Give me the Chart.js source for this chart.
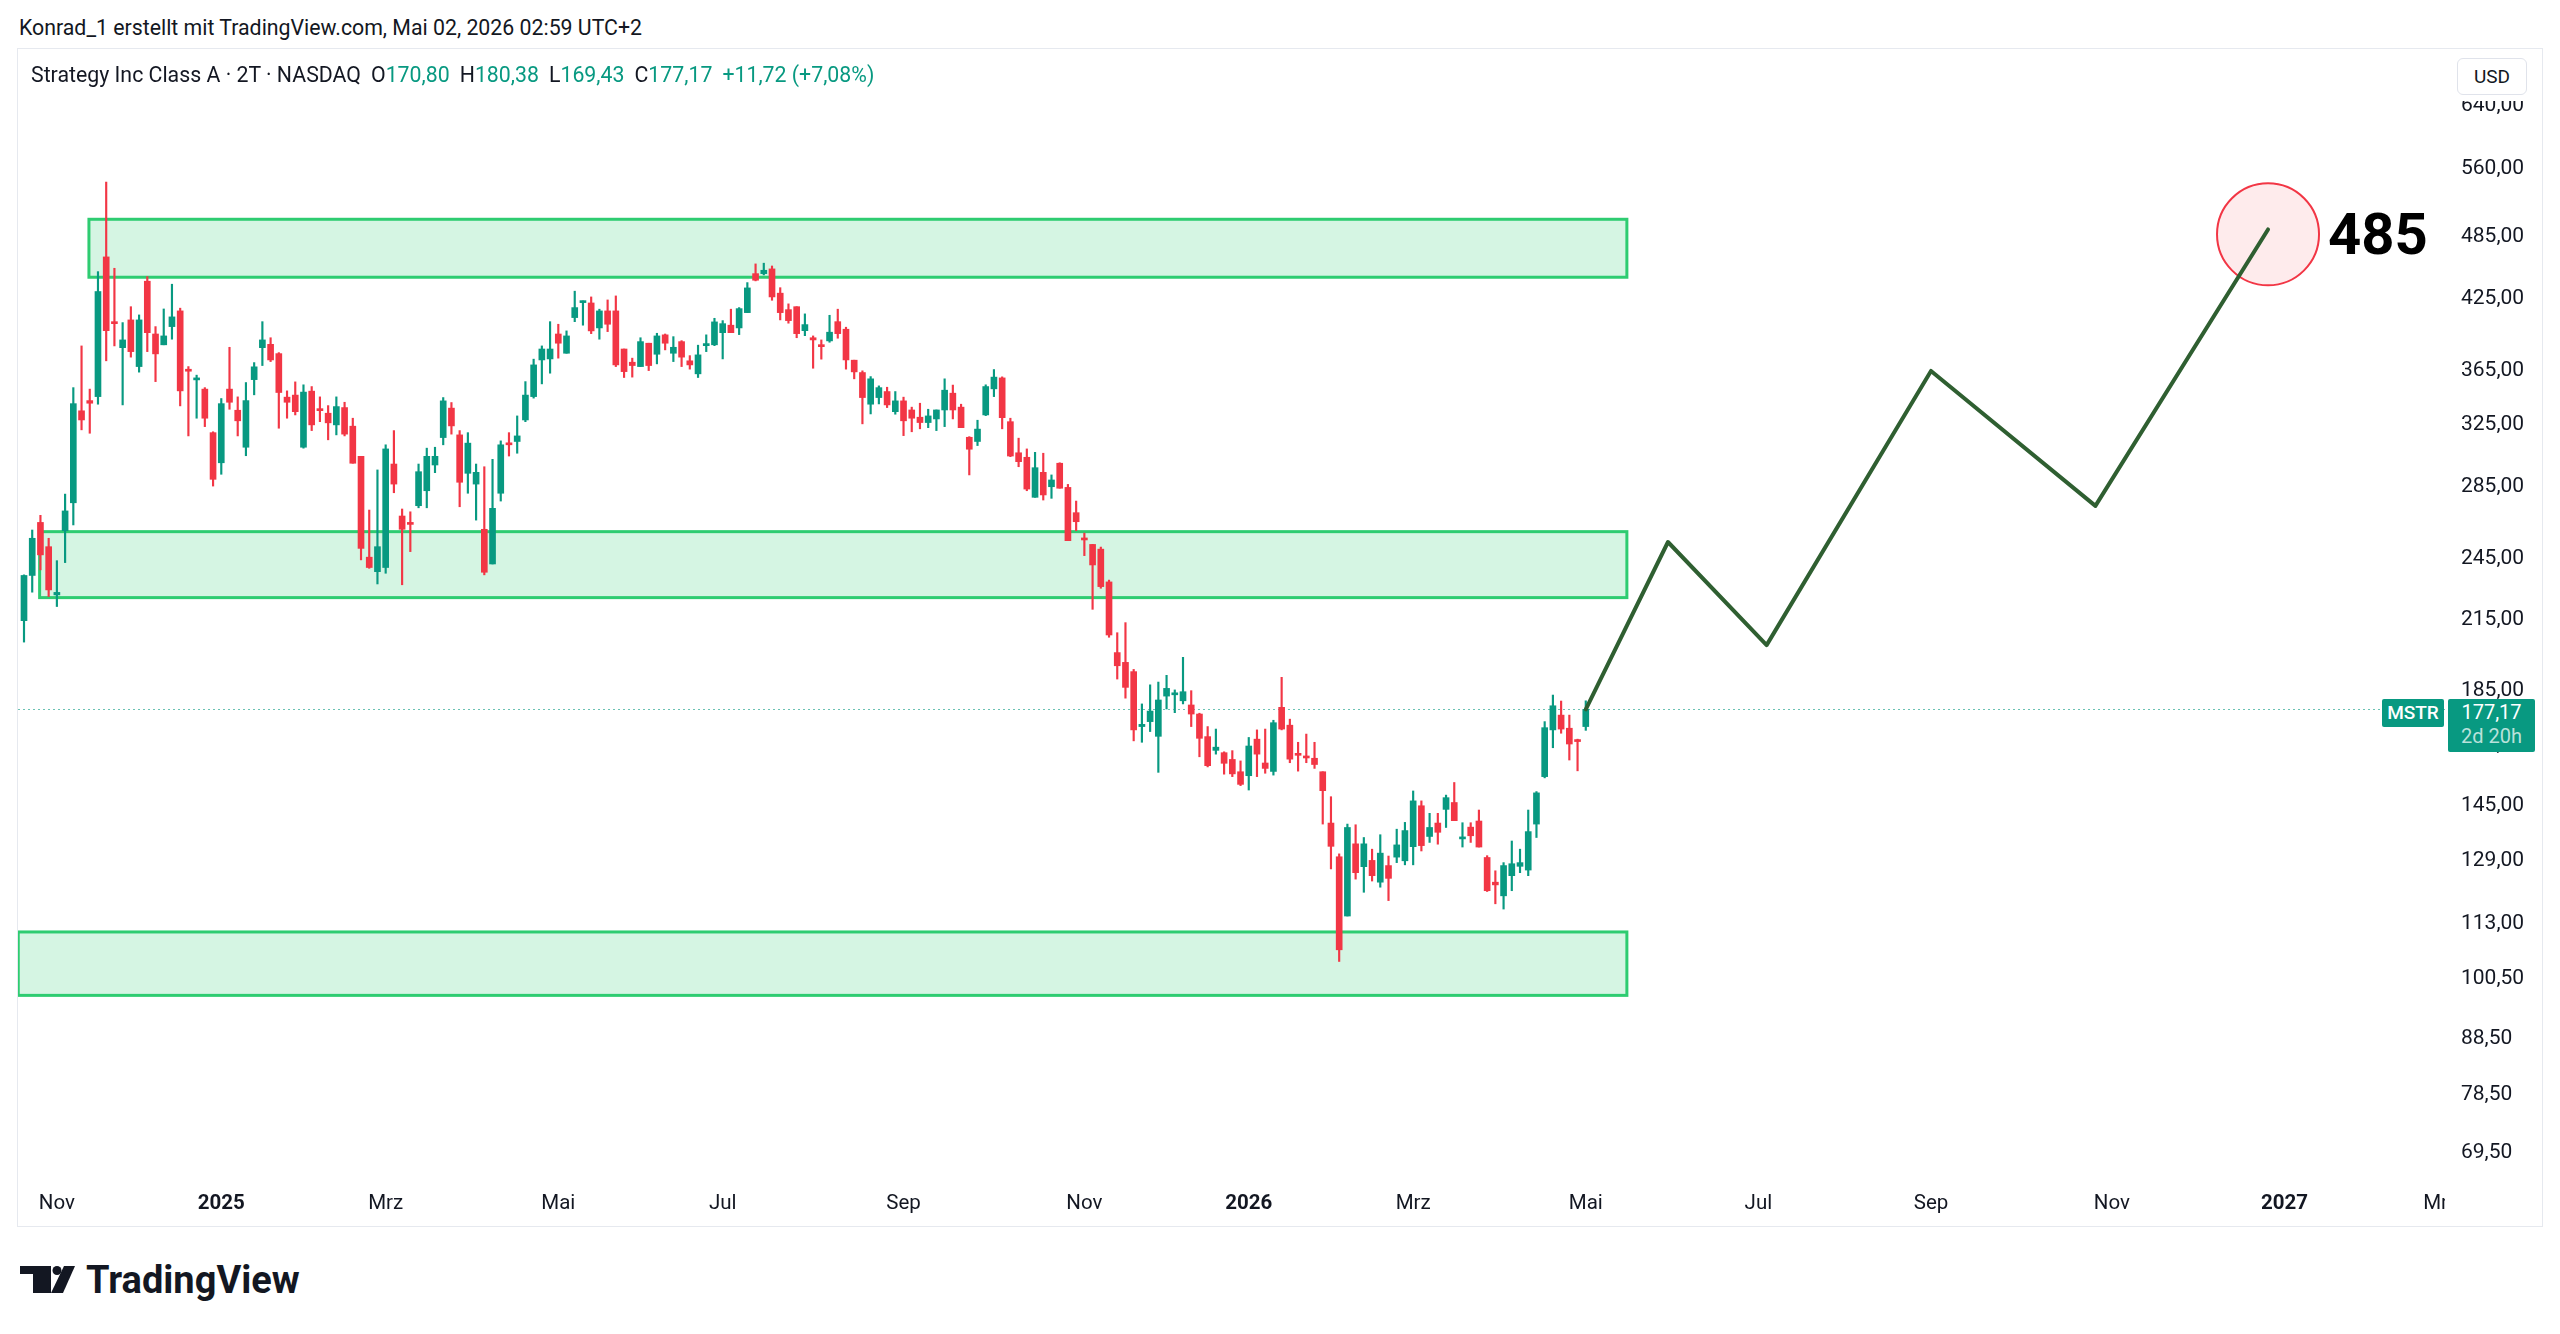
<!DOCTYPE html>
<html lang="de">
<head>
<meta charset="utf-8">
<title>Strategy Inc Class A (MSTR) · 2T</title>
<script src="https://cdn.jsdelivr.net/npm/chart.js@4.4.1/dist/chart.umd.min.js"></script>
<style>
  html, body { margin: 0; padding: 0; background: #fff; }
  body { position: relative; width: 2560px; height: 1334px; overflow: hidden;
         font-family: Roboto, "Noto Sans", sans-serif; color: #131722; }
  .abs { position: absolute; white-space: nowrap; }
  #byline { left: 19px; top: 16px; font-size: 21.3px; line-height: 24px; }
  #frame { left: 17px; top: 48px; width: 2524px; height: 1177px; border: 1px solid #e6e9ef; }
  #pane { left: 18px; top: 49px; width: 2524px; height: 1177px; }
  #legend { left: 31px; top: 63px; font-size: 21.3px; line-height: 24px; }
  #legend .v { color: #089981; }
  #legend .k { margin-left: 10px; }
  #axisTop { left: 2446px; top: 49px; width: 95px; height: 52px; background: #fff; }
  #usd { left: 2457px; top: 58px; width: 68px; height: 35px; border: 1px solid #e0e3eb; border-radius: 6px;
         font-size: 19px; line-height: 35px; text-align: center; background: #fff; }
  #sym { background: #089981; color: #fff; font-weight: 500; font-size: 19px; width: 62px; height: 28px;
         line-height: 28px; text-align: center; border-radius: 2px; }
  #last { background: #089981; color: #fff; font-size: 20px; width: 87px; height: 53px; padding-top: 1px;
          box-sizing: border-box; line-height: 24px; text-align: center; border-radius: 2px; }
  #last .cd { color: rgba(255, 255, 255, 0.72); }
  #target { font-weight: 700; font-size: 58px; line-height: 58px; color: #000; }
  #brand { left: 86px; top: 1261px; font-weight: 700; font-size: 38px; line-height: 38px; color: #131722; }
  #logo { left: 20px; top: 1266px; }
</style>
</head>
<body>
<div id="byline" class="abs">Konrad_1 erstellt mit TradingView.com, Mai 02, 2026 02:59 UTC+2</div>
<div id="frame" class="abs"></div>
<div id="pane" class="abs"><canvas id="chart" width="2524" height="1177"></canvas></div>
<div id="legend" class="abs"><span>Strategy Inc Class A · 2T · NASDAQ</span><span class="k">O</span><span class="v">170,80</span><span class="k">H</span><span class="v">180,38</span><span class="k">L</span><span class="v">169,43</span><span class="k">C</span><span class="v">177,17</span><span class="k v">+11,72 (+7,08%)</span></div>
<div id="axisTop" class="abs"></div>
<div id="usd" class="abs">USD</div>
<div id="sym" class="abs">MSTR</div>
<div id="last" class="abs">177,17<br><span class="cd">2d 20h</span></div>
<div id="target" class="abs">485</div>
<svg id="logo" class="abs" width="56" height="28" viewBox="0 0 56 28">
  <path d="M0 0H31V27H13V8H0Z" fill="#131722"/>
  <circle cx="37" cy="4.5" r="4.5" fill="#131722"/>
  <path d="M44 0H55L43 27H31Z" fill="#131722"/>
</svg>
<div id="brand" class="abs">TradingView</div>

<script>
// MSTR 2-day candles, Oct 2024 - May 2026
var opens = [
  213.8, 235.3, 263.3, 250.1, 225.8, 258.7, 274.5, 333.6, 340.9, 343.8,
  462.3, 402.2, 381.4, 404.5, 366.4, 439.1, 392.6, 383.7, 398.8, 412.3,
  364.1, 356.2, 349.3, 318.5, 298.8, 349.3, 334.0, 308.8, 356.4, 381.4,
  384.1, 376.6, 343.4, 344.9, 308.8, 347.8, 334.5, 331.9, 323.8, 335.9,
  322.9, 302.9, 244.6, 237.2, 239.3, 298.0, 266.9, 263.3, 272.8, 281.6,
  297.4, 315.2, 335.5, 317.0, 292.2, 285.6, 259.5, 241.1, 280.1, 311.0,
  312.6, 327.2, 343.8, 371.6, 372.4, 392.6, 376.9, 406.5, 419.6, 419.3,
  397.7, 412.3, 412.3, 380.3, 369.8, 366.4, 385.0, 376.1, 391.9, 376.9,
  386.3, 370.9, 360.8, 383.0, 383.7, 393.7, 400.0, 397.7, 410.8, 446.2,
  446.2, 450.7, 428.1, 413.4, 416.0, 395.4, 389.5, 383.4, 386.9, 403.0,
  396.6, 371.4, 361.8, 338.3, 343.1, 347.5, 333.0, 340.7, 334.2, 329.1,
  325.4, 327.9, 334.2, 346.3, 336.2, 315.4, 312.6, 330.7, 349.5, 357.7,
  326.0, 305.2, 302.3, 277.7, 292.8, 284.0, 298.5, 283.6, 268.8, 254.2,
  251.3, 248.8, 232.1, 199.8, 195.7, 191.9, 170.8, 172.6, 167.3, 182.2,
  182.7, 180.4, 178.8, 175.4, 167.2, 162.4, 161.6, 159.3, 155.2, 153.9,
  166.3, 158.1, 155.3, 177.9, 171.3, 161.0, 160.3, 159.7, 155.2, 139.2,
  129.6, 114.3, 133.2, 126.9, 128.6, 122.8, 127.2, 129.5, 128.5, 132.4,
  144.4, 135.3, 139.2, 143.3, 145.4, 134.6, 138.0, 139.8, 129.4, 122.8,
  119.3, 124.5, 127.0, 126.0, 138.9, 153.6, 169.6, 175.0, 170.2, 166.0,
  170.80
];
var highs = [
  235.6, 259.1, 267.3, 254.6, 242.8, 279.6, 350.4, 382.8, 349.3, 448.1,
  541.8, 451.3, 402.2, 416.0, 408.8, 443.4, 398.8, 414.0, 436.3, 414.7,
  366.4, 359.8, 350.4, 319.1, 342.4, 381.7, 343.6, 354.2, 369.5, 403.0,
  389.5, 377.4, 348.0, 354.7, 352.5, 351.2, 343.6, 337.3, 343.6, 339.7,
  328.4, 302.9, 270.3, 294.3, 310.4, 319.9, 270.9, 269.3, 298.0, 308.2,
  308.8, 343.1, 339.5, 319.9, 318.5, 298.0, 296.3, 301.0, 313.0, 318.5,
  330.0, 354.9, 372.2, 382.8, 403.0, 400.8, 395.2, 429.9, 421.1, 424.7,
  413.8, 422.0, 425.6, 380.3, 373.0, 389.5, 385.0, 393.2, 392.6, 390.4,
  387.1, 375.0, 383.4, 391.9, 405.9, 403.9, 413.8, 415.2, 437.8, 455.5,
  456.2, 453.5, 433.1, 418.5, 416.0, 409.7, 391.0, 387.7, 408.5, 413.8,
  398.3, 371.4, 363.1, 358.7, 351.7, 350.7, 347.5, 343.4, 336.2, 339.0,
  334.7, 334.2, 357.0, 352.3, 338.3, 315.8, 327.0, 352.5, 364.1, 358.5,
  328.4, 314.8, 307.7, 305.5, 304.9, 291.2, 298.8, 285.4, 275.5, 257.4,
  251.3, 249.9, 233.0, 208.4, 212.9, 192.8, 179.2, 186.6, 187.7, 190.4,
  184.6, 197.8, 184.3, 175.7, 170.8, 169.9, 161.9, 162.3, 158.8, 166.9,
  169.6, 169.9, 173.1, 189.6, 173.5, 165.2, 168.1, 165.2, 155.2, 147.2,
  130.4, 138.9, 138.7, 135.0, 131.7, 135.8, 129.8, 137.4, 139.4, 149.0,
  145.9, 142.1, 142.1, 147.7, 151.7, 139.3, 139.3, 143.1, 129.9, 125.8,
  128.0, 134.0, 131.7, 143.1, 148.8, 172.6, 182.6, 180.3, 175.0, 166.3,
  180.38
];
var lows = [
  204.3, 227.1, 238.1, 225.0, 220.3, 241.8, 261.9, 320.4, 318.1, 338.3,
  370.9, 382.8, 337.8, 373.8, 362.1, 378.2, 354.9, 383.7, 388.3, 337.1,
  316.3, 328.4, 322.6, 284.4, 291.6, 334.7, 316.3, 303.3, 345.1, 367.2,
  370.3, 321.5, 328.4, 330.7, 308.2, 319.9, 326.0, 313.7, 317.0, 316.3,
  298.5, 243.2, 238.9, 231.1, 236.4, 280.4, 230.7, 247.5, 271.6, 271.6,
  292.6, 310.4, 317.5, 272.2, 280.1, 264.6, 235.6, 241.1, 275.5, 303.1,
  304.9, 326.0, 342.7, 353.2, 361.3, 373.0, 376.9, 403.0, 400.0, 392.9,
  388.3, 394.6, 366.4, 358.0, 358.3, 366.4, 363.3, 368.5, 379.6, 370.3,
  366.4, 364.4, 358.0, 378.2, 383.0, 372.4, 393.7, 392.1, 410.8, 439.4,
  445.0, 421.7, 404.5, 401.7, 389.5, 391.2, 365.1, 372.2, 385.8, 389.1,
  364.4, 357.0, 324.5, 331.4, 338.5, 335.9, 331.2, 316.5, 319.1, 321.1,
  321.9, 319.9, 322.6, 327.9, 321.9, 291.2, 309.9, 330.2, 343.8, 321.1,
  302.7, 296.3, 281.6, 277.7, 276.1, 277.1, 283.1, 253.3, 258.7, 245.4,
  219.0, 229.0, 206.4, 188.9, 181.4, 165.7, 165.2, 169.0, 155.0, 177.3,
  175.9, 179.2, 170.8, 160.2, 156.8, 161.1, 154.4, 153.6, 150.7, 149.3,
  153.6, 154.7, 154.1, 169.6, 158.2, 155.4, 158.2, 156.3, 138.9, 126.3,
  103.8, 114.3, 123.6, 120.2, 123.1, 121.5, 118.1, 128.0, 127.4, 127.4,
  131.2, 133.6, 133.1, 137.9, 139.9, 132.3, 133.6, 132.3, 120.4, 117.3,
  116.0, 120.6, 125.3, 124.5, 135.0, 153.2, 163.3, 168.4, 159.1, 155.5,
  169.43
];
var closes = [
  235.3, 254.6, 245.8, 228.2, 227.0, 269.8, 338.7, 327.2, 339.0, 429.6,
  395.4, 401.3, 387.7, 378.2, 404.5, 393.7, 376.4, 391.0, 407.1, 348.0,
  362.8, 357.0, 328.4, 288.5, 338.7, 339.7, 326.6, 340.9, 366.2, 387.7,
  371.6, 346.8, 339.7, 333.0, 347.1, 323.8, 333.7, 325.2, 336.6, 317.5,
  298.5, 249.2, 239.3, 250.1, 307.7, 285.6, 259.5, 262.2, 293.2, 302.9,
  302.9, 340.7, 323.1, 286.7, 311.5, 292.8, 236.9, 271.3, 310.4, 310.4,
  316.3, 344.9, 367.7, 380.3, 380.3, 385.0, 391.0, 415.2, 420.5, 395.2,
  412.3, 400.8, 367.7, 362.5, 367.2, 386.3, 367.2, 391.0, 385.0, 381.7,
  373.8, 367.7, 375.6, 384.7, 402.8, 401.3, 393.7, 414.3, 432.9, 440.0,
  449.4, 424.7, 410.8, 403.9, 392.9, 400.5, 387.7, 382.2, 394.1, 392.9,
  371.6, 362.3, 343.1, 357.0, 350.4, 337.8, 340.7, 326.6, 328.4, 325.4,
  330.0, 334.2, 348.5, 334.2, 321.9, 307.5, 320.9, 351.2, 358.3, 328.8,
  303.1, 299.5, 282.6, 295.7, 279.1, 288.1, 283.1, 253.3, 263.7, 253.7,
  240.6, 229.8, 207.4, 194.3, 185.6, 169.6, 171.6, 176.5, 180.7, 185.2,
  183.0, 183.9, 175.4, 166.6, 157.2, 163.5, 158.0, 154.5, 151.1, 163.9,
  161.1, 156.3, 172.2, 169.9, 159.4, 160.7, 159.8, 157.6, 149.1, 132.5,
  106.4, 137.9, 125.3, 133.2, 124.5, 130.6, 123.8, 132.9, 137.0, 145.9,
  132.7, 137.9, 136.5, 146.9, 139.9, 135.0, 135.5, 132.3, 120.6, 122.1,
  127.2, 127.7, 128.0, 136.7, 148.4, 170.4, 178.5, 169.9, 164.6, 165.45,
  177.17
];

// time axis: label and the bar it belongs to
var monthLabels = ['Nov', '2025', 'Mrz', 'Mai', 'Jul', 'Sep', 'Nov', '2026', 'Mrz', 'Mai', 'Jul', 'Sep', 'Nov', '2027', 'Mrz'];
var monthBars = [4, 24, 44, 65, 85, 107, 129, 149, 169, 190, 211, 232, 254, 275, 294];

// price axis (log)
var priceTicks = [69.5, 78.5, 88.5, 100.5, 113, 129, 145, 165, 185, 215, 245, 285, 325, 365, 425, 485, 560, 640];

// support / resistance boxes: bar from, bar to, price low, price high
var zoneFrom = [7.9, 1.9, -0.7];
var zoneTo = [195, 195, 195];
var zoneLow = [442.8, 224.5, 96.6];
var zoneHigh = [500.7, 258.2, 110.5];

// projected path and target
var pathBars = [190, 200, 212, 232, 252, 273];
var pathPrices = [177.17, 252.6, 203, 363, 272.7, 490];
var targetBar = 273;
var targetPrice = 485;

var UP = '#089981', DOWN = '#f23645';
var PANE_LEFT = 18, PANE_TOP = 49;

function fmtPrice(v) { return Number(v).toFixed(2).replace('.', ','); }

var candleColors = opens.map(function (o, i) { return closes[i] >= o ? UP : DOWN; });
var bodies = opens.map(function (o, i) { return { x: i, y: [o, closes[i]] }; });
var wicks = opens.map(function (o, i) { return { x: i, y: [lows[i], highs[i]] }; });
var lastClose = closes[closes.length - 1];

// boxes and the dotted last-price line, under the candles
var zonesPlugin = {
  id: 'zones',
  beforeDatasetsDraw: function (chart) {
    var ctx = chart.ctx, a = chart.chartArea, x = chart.scales.x, y = chart.scales.y;
    ctx.save();
    ctx.beginPath();
    ctx.rect(a.left, a.top, a.right - a.left, a.bottom - a.top);
    ctx.clip();
    for (var i = 0; i < zoneFrom.length; i++) {
      var x0 = x.getPixelForValue(zoneFrom[i]), x1 = x.getPixelForValue(zoneTo[i]);
      var y0 = y.getPixelForValue(zoneHigh[i]), y1 = y.getPixelForValue(zoneLow[i]);
      ctx.fillStyle = 'rgba(46, 204, 113, 0.2)';
      ctx.fillRect(x0, y0, x1 - x0, y1 - y0);
      ctx.strokeStyle = '#2ecc71';
      ctx.lineWidth = 3;
      ctx.strokeRect(x0, y0, x1 - x0, y1 - y0);
    }
    var py = Math.round(y.getPixelForValue(lastClose)) + 0.5;
    ctx.setLineDash([2, 3]);
    ctx.strokeStyle = 'rgba(8, 153, 129, 0.6)';
    ctx.lineWidth = 1.2;
    ctx.beginPath();
    ctx.moveTo(a.left, py);
    ctx.lineTo(a.right, py);
    ctx.stroke();
    ctx.restore();
  },
  // time labels are cut off where the price scale starts
  afterDraw: function (chart) {
    var ctx = chart.ctx, a = chart.chartArea;
    ctx.save();
    ctx.fillStyle = '#fff';
    ctx.fillRect(a.right, a.bottom, chart.width - a.right, chart.height - a.bottom);
    ctx.restore();
  }
};

// keep the pane edge-to-edge: no extra room for edge labels
function noEdgePadding(s) {
  s.paddingTop = 0;
  s.paddingBottom = 0;
  s.paddingLeft = 0;
  s.paddingRight = 0;
}

var chart = new Chart(document.getElementById('chart'), {
  type: 'bar',
  data: {
    datasets: [
      {
        type: 'line', data: pathBars.map(function (b, i) { return { x: b, y: pathPrices[i] }; }),
        borderColor: '#2f5f31', borderWidth: 4, pointRadius: 0, tension: 0,
        borderCapStyle: 'round', borderJoinStyle: 'round', order: 0
      },
      {
        type: 'scatter', data: [{ x: targetBar, y: targetPrice }],
        pointRadius: 51, pointBackgroundColor: 'rgba(242, 54, 69, 0.1)',
        pointBorderColor: '#f23645', pointBorderWidth: 2, order: 1
      },
      {
        data: bodies, backgroundColor: candleColors, borderWidth: 0,
        barThickness: 6, minBarLength: 2, grouped: false, order: 2
      },
      {
        data: wicks, backgroundColor: candleColors, borderWidth: 0,
        barThickness: 1.5, grouped: false, order: 3
      }
    ]
  },
  options: {
    responsive: false,
    devicePixelRatio: 1,
    animation: false,
    events: [],
    layout: { padding: 0, autoPadding: false },
    plugins: { legend: { display: false }, tooltip: { enabled: false } },
    scales: {
      x: {
        type: 'linear', min: -0.73, max: 294.53, bounds: 'data', offset: false,
        afterFit: function (s) { s.height = 46; noEdgePadding(s); },
        afterBuildTicks: function (s) { s.ticks = monthBars.map(function (b) { return { value: b }; }); },
        grid: { display: false, drawTicks: false, offset: false },
        border: { display: false },
        ticks: {
          autoSkip: false, maxRotation: 0, padding: 12, color: '#131722',
          font: function (c) {
            var isYear = /^\d{4}$/.test(monthLabels[c.index] || '');
            return { family: 'Roboto', size: 20.5, weight: isYear ? 'bold' : 'normal' };
          },
          callback: function (v, i) { return monthLabels[i]; }
        }
      },
      y: {
        type: 'logarithmic', position: 'right', min: 65.31, max: 718.4, bounds: 'data',
        afterFit: function (s) { s.width = 97; noEdgePadding(s); },
        afterBuildTicks: function (s) { s.ticks = priceTicks.map(function (v) { return { value: v }; }); },
        grid: { display: false, drawTicks: false },
        border: { display: false },
        ticks: {
          autoSkip: false, padding: 16, labelOffset: 2, color: '#131722',
          font: { family: 'Roboto', size: 21 },
          callback: function (v) { return fmtPrice(v); }
        }
      }
    }
  },
  plugins: [zonesPlugin]
});

// labels tied to chart values
function place(id, left, top) {
  var el = document.getElementById(id);
  el.style.left = left + 'px';
  el.style.top = top + 'px';
}
var sx = chart.scales.x, sy = chart.scales.y;
var lastY = PANE_TOP + sy.getPixelForValue(lastClose);
place('sym', 2382, Math.round(lastY - 10));
place('last', 2448, Math.round(lastY - 10));
var tX = PANE_LEFT + sx.getPixelForValue(targetBar), tY = PANE_TOP + sy.getPixelForValue(targetPrice);
place('target', Math.round(tX + 60), Math.round(tY - 29));
</script>
</body>
</html>
